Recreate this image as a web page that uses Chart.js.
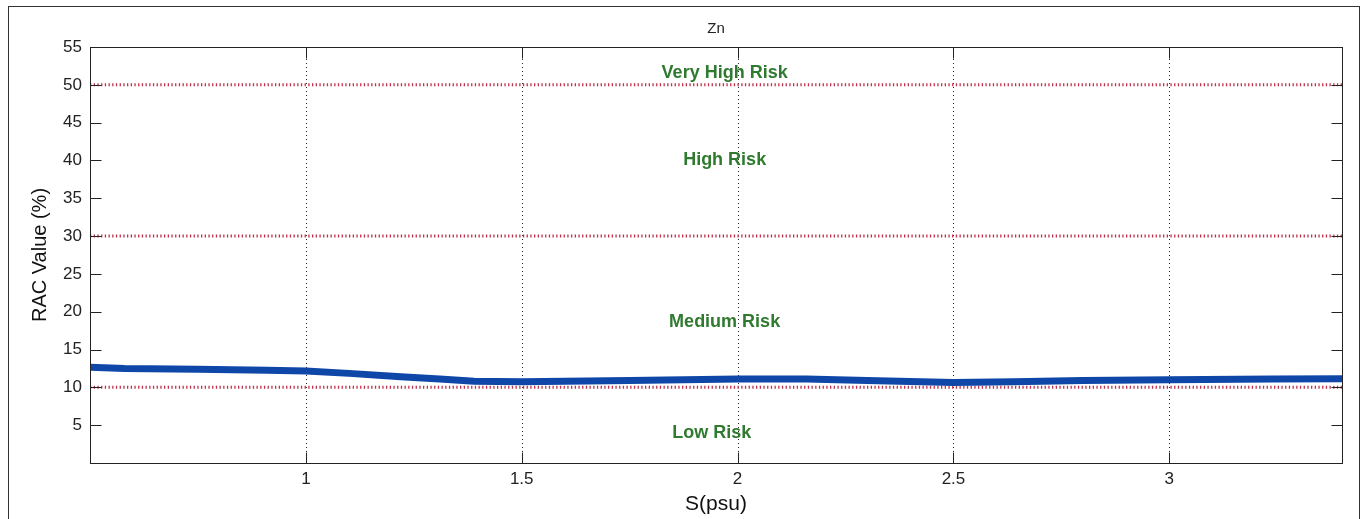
<!DOCTYPE html>
<html>
<head>
<meta charset="utf-8">
<script src="https://cdn.jsdelivr.net/npm/chart.js@4/dist/chart.umd.min.js"></script>
<style>
  html, body { margin: 0; padding: 0; background: #fff; }
  #wrap { width: 1370px; height: 519px; position: relative; }
</style>
</head>
<body>
<div id="wrap"><canvas id="chart" width="1370" height="519"></canvas></div>
<script>
// Zn · RAC vs salinity

const S_VALUES   = [0.5, 0.58, 0.75, 0.91, 1.0, 1.1, 1.22, 1.31, 1.39, 1.5, 1.75, 2.0, 2.16, 2.3, 2.5, 2.64, 2.8, 3.0, 3.24, 3.4];
const RAC_VALUES = [12.65, 12.5, 12.4, 12.25, 12.15, 11.85, 11.4, 11.1, 10.8, 10.75, 10.9, 11.1, 11.1, 10.9, 10.65, 10.75, 10.9, 11.0, 11.1, 11.15];

const X_RANGE = [0.5, 3.4];
const X_TICKS = [1, 1.5, 2, 2.5, 3];
const Y_TICKS = [5, 10, 15, 20, 25, 30, 35, 40, 45, 50, 55];

const THRESHOLDS = [10, 30, 50];
const ZONE_LABELS = ["Very High Risk", "High Risk", "Medium Risk", "Low Risk"];
const ZONE_X      = [1.97, 1.97, 1.97, 1.94];
const ZONE_Y      = [51.6, 40, 18.6, 3.9];

const FONT = "'Liberation Sans', Arial, sans-serif";

// ── 框线 / 网格 / 刻度 / 区域文字 ─────────────────────────────────────────
const decor = {
  id: "decor",
  beforeDatasetsDraw(chart) {
    const { ctx, chartArea: a, scales: { x } } = chart;
    ctx.save();
    ctx.strokeStyle = "#222";
    ctx.lineWidth = 1;
    ctx.setLineDash([1, 3]);
    X_TICKS.forEach(v => {
      const px = Math.round(x.getPixelForValue(v)) + 0.5;
      ctx.beginPath(); ctx.moveTo(px, a.top); ctx.lineTo(px, a.bottom); ctx.stroke();
    });
    ctx.restore();
  },
  afterDatasetsDraw(chart) {
    const { ctx, chartArea: a, scales: { x, y } } = chart;
    ctx.save();
    // 外框
    ctx.strokeStyle = "#333";
    ctx.lineWidth = 1;
    ctx.strokeRect(8.5, 6.5, 1351, 600);
    // 坐标框
    ctx.strokeStyle = "#222";
    const L = Math.round(a.left) + 0.5, R = Math.round(a.right) + 0.5;
    const T = Math.round(a.top) + 0.5, B = Math.round(a.bottom) + 0.5;
    ctx.strokeRect(L, T, R - L, B - T);
    // 内刻度
    const tl = 11;
    ctx.beginPath();
    X_TICKS.forEach(v => {
      const px = Math.round(x.getPixelForValue(v)) + 0.5;
      ctx.moveTo(px, B); ctx.lineTo(px, B - tl);
      ctx.moveTo(px, T); ctx.lineTo(px, T + tl);
    });
    Y_TICKS.forEach(v => {
      const py = Math.round(y.getPixelForValue(v)) + 0.5;
      ctx.moveTo(L, py); ctx.lineTo(L + tl, py);
      ctx.moveTo(R, py); ctx.lineTo(R - tl, py);
    });
    ctx.stroke();
    // 区域文字
    ctx.fillStyle = "#2f7a2f";
    ctx.font = "bold 18px " + FONT;
    ctx.textAlign = "center";
    ctx.textBaseline = "middle";
    ZONE_LABELS.forEach((t, i) => {
      ctx.fillText(t, x.getPixelForValue(ZONE_X[i]), y.getPixelForValue(ZONE_Y[i]));
    });
    ctx.restore();
  },
};

const thresholdSets = THRESHOLDS.map(v => ({
  label: "RAC " + v + "%",
  data: X_RANGE.map(s => ({ x: s, y: v })),
  borderColor: "#c0304a",
  borderWidth: 3,
  borderDash: [1.3, 2.4],
  borderCapStyle: "butt",
  pointRadius: 0,
  order: 2,
}));

new Chart(document.getElementById("chart"), {
  type: "line",
  data: {
    datasets: [
      ...thresholdSets,
      {
        label: "Zn",
        data: S_VALUES.map((s, i) => ({ x: s, y: RAC_VALUES[i] })),
        borderColor: "#0f47a8",
        borderWidth: 7,
        pointRadius: 0,
        tension: 0,
        order: 1,
      },
    ],
  },
  options: {
    responsive: false,
    animation: false,
    layout: { padding: { left: 0, right: 28, top: 0, bottom: 0 } },
    plugins: {
      legend: { display: false },
      tooltip: { enabled: false },
      title: {
        display: true,
        fullSize: false,
        text: "Zn",
        color: "#222",
        font: { family: FONT, size: 15, weight: "normal" },
        padding: { top: 20, bottom: 9 },
      },
    },
    scales: {
      x: {
        type: "linear",
        min: X_RANGE[0], max: X_RANGE[1],
        afterBuildTicks: s => { s.ticks = X_TICKS.map(v => ({ value: v })); },
        afterFit: s => { s.height = 56; },
        grid: { display: false, drawTicks: false },
        border: { display: false },
        ticks: {
          color: "#222", font: { family: FONT, size: 17 }, padding: 6, maxRotation: 0,
          callback: v => String(v),
        },
        title: {
          display: true, text: "S(psu)", color: "#111",
          font: { family: FONT, size: 21 }, padding: { top: 0, bottom: 2 },
        },
      },
      y: {
        min: 0, max: 55,
        afterBuildTicks: s => { s.ticks = Y_TICKS.map(v => ({ value: v })); },
        afterFit: s => { s.width = 90; },
        grid: { display: false, drawTicks: false },
        border: { display: false },
        ticks: { color: "#222", font: { family: FONT, size: 17 }, padding: 8 },
        title: {
          display: true, text: "RAC Value (%)", color: "#111",
          font: { family: FONT, size: 20 }, padding: { top: 28, bottom: 0 },
        },
      },
    },
  },
  plugins: [decor],
});
</script>
</body>
</html>
